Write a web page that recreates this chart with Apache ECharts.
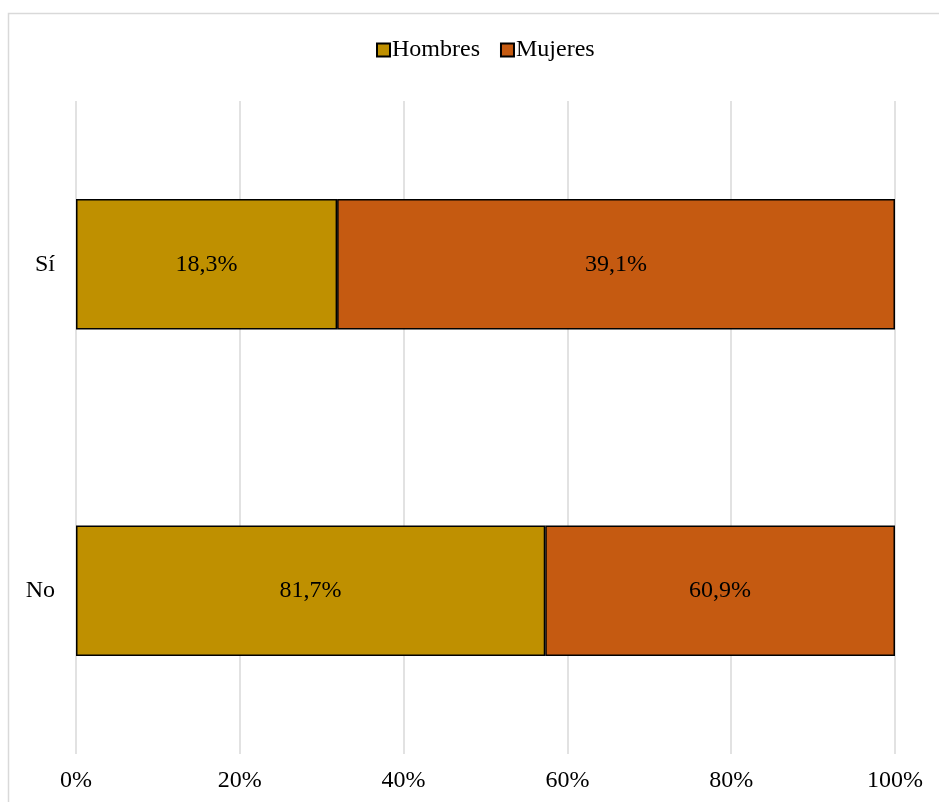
<!DOCTYPE html>
<html>
<head>
<meta charset="utf-8">
<script src="https://cdn.jsdelivr.net/npm/echarts@6/dist/echarts.min.js"></script>
<style>
  html, body { margin: 0; padding: 0; background: #fff; }
  #chart { width: 939px; height: 802px; }
</style>
</head>
<body>
<div id="chart"></div>
<script>
// Answer categories (bottom to top on the y axis)
const categories = ['No', 'Sí'];
// Percentages within each sex
const hombres = [81.7, 18.3];
const mujeres = [60.9, 39.1];
const xTicks = [0, 20, 40, 60, 80, 100];

// Each bar is stacked to 100% of its row
const totals = categories.map((_, i) => hombres[i] + mujeres[i]);
const share = (arr) => arr.map((v, i) => ({ value: v / totals[i] * 100, raw: v }));
const fmt = (v) => v.toFixed(1).replace('.', ',') + '%';

const font = 'Liberation Serif';
const fs = 24;
const chart = echarts.init(document.getElementById('chart'), null, { renderer: 'canvas' });

const labelCfg = {
  show: true,
  position: 'inside',
  color: '#000',
  fontFamily: font,
  fontSize: fs,
  formatter: (p) => fmt(p.data.raw)
};

chart.setOption({
  backgroundColor: '#fff',
  animation: false,
  textStyle: { fontFamily: font },
  graphic: [{
    type: 'rect',
    shape: { x: 8.5, y: 13.5, width: 960, height: 820 },
    style: { fill: 'none', stroke: '#d9d9d9', lineWidth: 1.5 },
    silent: true
  }],
  legend: {
    top: 33,
    left: 371,
    itemWidth: 13,
    itemHeight: 13,
    itemGap: 20,
    icon: 'rect',
    textStyle: { fontFamily: font, fontSize: fs, color: '#000', padding: [0, 0, 0, -3] },
    data: ['Hombres', 'Mujeres']
  },
  grid: { left: 76, right: 44, top: 101, bottom: 48 },
  xAxis: {
    type: 'value',
    min: 0,
    max: 100,
    interval: 20,
    axisLine: { show: false },
    axisTick: { show: false },
    splitLine: { show: true, lineStyle: { color: '#d9d9d9', width: 1.5 } },
    axisLabel: {
      color: '#000',
      fontFamily: font,
      fontSize: fs,
      margin: 15,
      formatter: (v) => xTicks.includes(v) ? v + '%' : ''
    }
  },
  yAxis: {
    type: 'category',
    data: categories,
    axisLine: { show: false },
    axisTick: { show: false },
    axisLabel: { color: '#000', fontFamily: font, fontSize: fs, margin: 21 }
  },
  series: [
    {
      name: 'Hombres',
      type: 'bar',
      stack: 'total',
      barWidth: '40%',
      data: share(hombres),
      itemStyle: { color: '#BF9000', borderColor: '#000', borderWidth: 1.5 },
      label: labelCfg
    },
    {
      name: 'Mujeres',
      type: 'bar',
      stack: 'total',
      barWidth: '40%',
      data: share(mujeres),
      itemStyle: { color: '#C55A11', borderColor: '#000', borderWidth: 1.5 },
      label: labelCfg
    }
  ]
});
</script>
</body>
</html>
